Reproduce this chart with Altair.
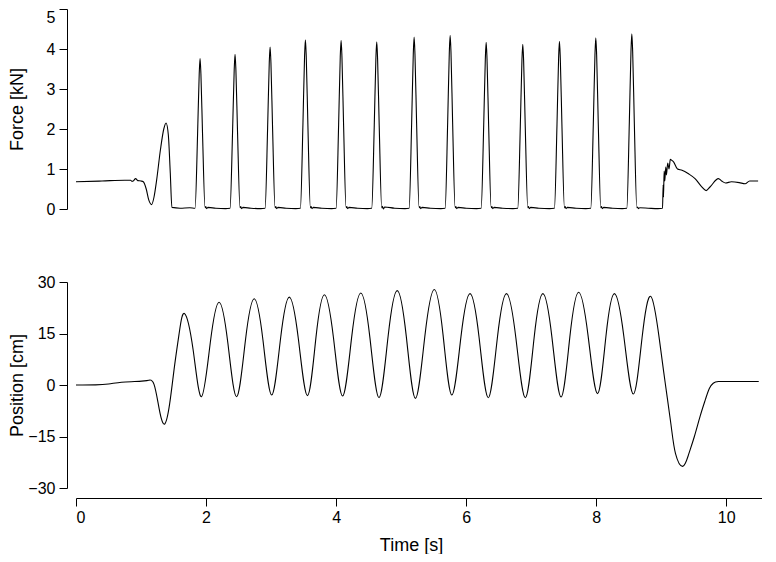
import altair as alt
import pandas as pd

FONT = "Liberation Sans"

# ---------------- data ----------------
x_ticks = [0, 2, 4, 6, 8, 10]
force_ticks = [0, 1, 2, 3, 4, 5]
pos_ticks = [-30, -15, 0, 15, 30]

force_t = [
    0.0, 0.4, 0.75, 0.84, 0.86, 0.88, 0.917, 0.95, 1.0, 1.035, 1.08, 1.12, 1.163, 1.20, 1.24, 1.30, 1.35, 1.385, 1.42, 1.45, 1.475, 1.6, 1.75,
    1.831, 1.870, 1.895, 1.908, 1.921, 1.946, 1.985, 1.995, 2.010, 2.030, 2.15, 2.30,
    2.369, 2.408, 2.433, 2.446, 2.459, 2.484, 2.523, 2.533, 2.548, 2.568, 2.69, 2.84,
    2.908, 2.947, 2.972, 2.985, 2.998, 3.023, 3.062, 3.072, 3.087, 3.107, 3.23, 3.38,
    3.451, 3.490, 3.515, 3.528, 3.541, 3.566, 3.605, 3.615, 3.630, 3.650, 3.78, 3.93,
    4.000, 4.039, 4.064, 4.077, 4.090, 4.115, 4.154, 4.164, 4.179, 4.199, 4.33, 4.48,
    4.548, 4.587, 4.612, 4.625, 4.638, 4.663, 4.702, 4.712, 4.727, 4.747, 4.90, 5.06,
    5.123, 5.162, 5.187, 5.200, 5.213, 5.238, 5.277, 5.287, 5.302, 5.322, 5.45, 5.61,
    5.677, 5.716, 5.741, 5.754, 5.767, 5.792, 5.831, 5.841, 5.856, 5.876, 6.00, 6.16,
    6.231, 6.270, 6.295, 6.308, 6.321, 6.346, 6.385, 6.395, 6.410, 6.430, 6.56, 6.72,
    6.794, 6.833, 6.858, 6.871, 6.884, 6.909, 6.948, 6.958, 6.973, 6.993, 7.12, 7.28,
    7.358, 7.397, 7.422, 7.435, 7.448, 7.473, 7.512, 7.522, 7.537, 7.557, 7.69, 7.84,
    7.917, 7.956, 7.981, 7.994, 8.007, 8.032, 8.071, 8.081, 8.096, 8.116, 8.25, 8.40,
    8.471, 8.510, 8.535, 8.548, 8.561, 8.586, 8.625, 8.635, 8.650, 8.670, 8.80, 8.95,
    9.02, 9.03, 9.035, 9.045, 9.055, 9.07, 9.08, 9.10, 9.12, 9.14, 9.16, 9.19, 9.25, 9.32,
    9.42, 9.52, 9.62, 9.69, 9.75, 9.88, 9.93, 9.99, 10.08, 10.2, 10.29, 10.36, 10.42, 10.49,
]
force_v = [
    0.68, 0.70, 0.72, 0.72, 0.69, 0.70, 0.76, 0.71, 0.70, 0.68, 0.50, 0.22, 0.11, 0.30, 0.72, 1.50, 2.00, 2.15, 1.85, 0.90, 0.04, 0.02, 0.03,
    0.02, 1.88, 3.38, 3.76, 3.38, 1.88, 0.03, 0.06, 0.01, 0.04, 0.02, 0.01,
    0.02, 1.94, 3.48, 3.87, 3.48, 1.94, 0.03, 0.06, 0.01, 0.04, 0.02, 0.01,
    0.02, 2.03, 3.65, 4.05, 3.65, 2.03, 0.03, 0.06, 0.01, 0.04, 0.02, 0.01,
    0.02, 2.12, 3.81, 4.23, 3.81, 2.12, 0.03, 0.06, 0.01, 0.04, 0.02, 0.01,
    0.02, 2.11, 3.80, 4.22, 3.80, 2.11, 0.03, 0.06, 0.01, 0.04, 0.02, 0.01,
    0.02, 2.09, 3.76, 4.18, 3.76, 2.09, 0.03, 0.07, 0.00, 0.05, 0.02, 0.01,
    0.02, 2.15, 3.87, 4.30, 3.87, 2.15, 0.03, 0.06, 0.01, 0.04, 0.02, 0.01,
    0.02, 2.17, 3.91, 4.34, 3.91, 2.17, 0.03, 0.06, 0.01, 0.04, 0.02, 0.01,
    0.02, 2.09, 3.75, 4.17, 3.75, 2.09, 0.03, 0.06, 0.01, 0.04, 0.02, 0.01,
    0.02, 2.06, 3.71, 4.12, 3.71, 2.06, 0.03, 0.06, 0.01, 0.04, 0.02, 0.01,
    0.02, 2.10, 3.77, 4.19, 3.77, 2.10, 0.03, 0.06, 0.01, 0.04, 0.02, 0.01,
    0.02, 2.14, 3.85, 4.28, 3.85, 2.14, 0.03, 0.06, 0.01, 0.04, 0.02, 0.01,
    0.02, 2.19, 3.94, 4.38, 3.94, 2.19, 0.03, 0.05, 0.01, 0.03, 0.02, 0.01,
    0.02, 0.60, 0.30, 0.95, 0.70, 1.05, 0.85, 1.15, 1.00, 1.24, 1.22, 1.18, 1.00, 0.97,
    0.88, 0.76, 0.56, 0.46, 0.55, 0.76, 0.70, 0.65, 0.68, 0.66, 0.63, 0.70, 0.70, 0.70,
]

pos_t = [
    0.0, 0.3, 0.5, 0.7, 0.9, 1.05, 1.12, 1.20, 1.28, 1.36, 1.44, 1.515, 1.59, 1.67,
    1.80, 1.93, 2.065, 2.20, 2.335, 2.47, 2.605, 2.74, 2.875, 3.01, 3.145, 3.28,
    3.42, 3.56, 3.69, 3.82, 3.96, 4.10, 4.24, 4.38, 4.52, 4.66, 4.80, 4.94,
    5.08, 5.22, 5.365, 5.51, 5.645, 5.78, 5.92, 6.06, 6.20, 6.34, 6.48, 6.62,
    6.765, 6.91, 7.045, 7.18, 7.32, 7.46, 7.595, 7.73, 7.875, 8.02, 8.15, 8.28,
    8.425, 8.57, 8.705, 8.84, 8.97, 9.06, 9.15, 9.22, 9.33, 9.42, 9.51, 9.60, 9.68, 9.74,
    9.80, 9.88, 10.1, 10.5,
]
pos_v = [
    0.0, 0.05, 0.3, 0.8, 1.0, 1.2, 1.4, 0.2, -7.0, -11.4, -5.5, 5.5, 15.5, 20.8,
    10.4, -3.4, 12.3, 24.1, 12.3, -3.4, 12.9, 25.1, 13.1, -2.9, 13.4, 25.6,
    13.4, -3.1, 13.8, 26.3, 13.7, -3.2, 14.0, 26.8, 13.8, -3.7, 14.2, 27.5,
    14.1, -3.9, 14.2, 27.8, 14.6, -2.9, 14.0, 26.6, 13.7, -3.7, 13.7, 26.6,
    13.7, -3.7, 13.7, 26.6, 13.8, -3.5, 14.0, 27.0, 14.4, -2.5, 14.2, 26.6,
    14.2, -2.6, 13.7, 25.8, 13.5, 0.8, -11.5, -20.0, -23.7, -20.3, -15.0, -9.0, -4.2, -1.0,
    0.5, 1.0, 1.0, 1.0,
]

force_df = pd.DataFrame({"t": force_t, "f": force_v})
pos_df = pd.DataFrame({"t": pos_t, "p": pos_v})

W = 686
X_DOM = [0, 10.55]

common = dict(
    domainColor="black", tickColor="black", labelColor="black", titleColor="black",
    labelFont=FONT, titleFont=FONT, labelFontSize=16, titleFontSize=18,
    titleFontWeight="normal", grid=False, tickSize=8, domainWidth=1, tickWidth=1,
)

top = alt.Chart(force_df).mark_line(
    color="black", strokeWidth=1.1, interpolate="monotone"
).encode(
    x=alt.X("t:Q", scale=alt.Scale(domain=X_DOM, nice=False, zero=False), axis=None),
    y=alt.Y("f:Q", scale=alt.Scale(domain=[0, 5], nice=False),
            axis=alt.Axis(values=force_ticks, title="Force [kN]", offset=9,
                          labelPadding=4, titleX=-41,
                          labelBaseline={"condition": {"test": "datum.value == 5", "value": "top"},
                                         "value": "middle"},
                          **common)),
).properties(width=W, height=200)

bottom = alt.Chart(pos_df).mark_line(
    color="black", strokeWidth=1.1, interpolate="natural"
).encode(
    x=alt.X("t:Q", scale=alt.Scale(domain=X_DOM, nice=False, zero=False),
            axis=alt.Axis(values=x_ticks, title="Time [s]", offset=10,
                          labelPadding=3, titlePadding=11, titleX=335, **common)),
    y=alt.Y("p:Q", scale=alt.Scale(domain=[-30, 30], nice=False),
            axis=alt.Axis(values=pos_ticks, title="Position [cm]", offset=9,
                          labelPadding=4, titleX=-41, **common)),
).properties(width=W, height=206)

chart = alt.vconcat(top, bottom, spacing=73, bounds="flush").properties(
    padding={"left": 0, "top": 0, "right": 0, "bottom": 0}
).configure_view(stroke=None)

chart.save("out.html", embed_options={"renderer": "svg", "actions": False})
